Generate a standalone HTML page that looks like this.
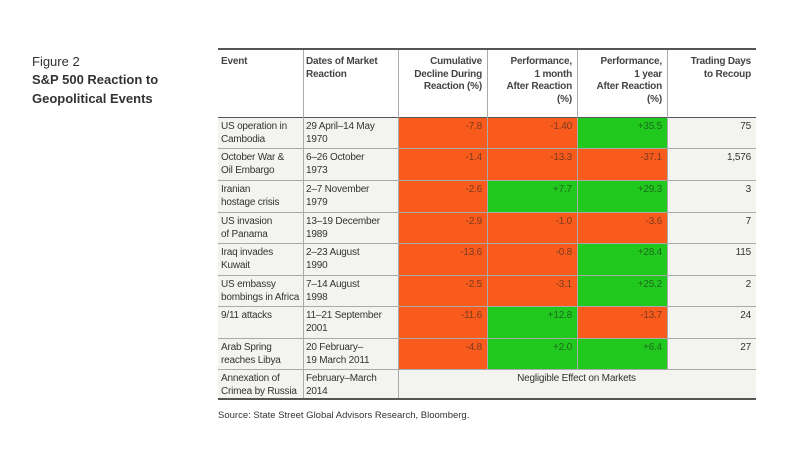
<!DOCTYPE html><html><head><style>
body{margin:0;width:792px;height:450px;background:#fff;font-family:"Liberation Sans",sans-serif;color:#333;position:relative;overflow:hidden}
.a{position:absolute}
.t{font-size:13px;line-height:19px;left:32px}
.c{position:absolute;box-sizing:border-box;font-size:10px;line-height:12.5px;padding:4px 4px 0 3px;white-space:nowrap;letter-spacing:-0.2px}
.r{text-align:right;padding-right:5px}
.h{font-weight:bold;color:#444;padding-top:6px}
.o{background:#f95b1c;color:#7a3a20}
.g{background:#21c91f;color:#1e6a1e}
.b{background:#f3f3f0}
</style></head><body>
<div class="a t" style="top:52px">Figure 2</div>
<div class="a t" style="top:70px;font-weight:bold">S&amp;P 500 Reaction to<br>Geopolitical Events</div>
<div class="a" style="left:218px;top:48px;width:538px;height:2px;background:#555"></div>
<div id="t"></div>
<div class="a" style="left:218px;top:398px;width:538px;height:2px;background:#555"></div>
<div class="a" style="left:218px;top:410px;font-size:9.5px">Source: State Street Global Advisors Research, Bloomberg.</div>
<script>
var X=[218,303,398,487,577,667,756];
var Y=[50,117,148,180,212,243,275,306,338,369,398];
var H=["Event","Dates of Market<br>Reaction","Cumulative<br>Decline During<br>Reaction (%)","Performance,<br>1 month<br>After Reaction<br>(%)","Performance,<br>1 year<br>After Reaction<br>(%)","Trading Days<br>to Recoup"];
var D=[["US operation in<br>Cambodia","29 April–14 May<br>1970","-7.8","-1.40","+35.5","75"],
["October War &amp;<br>Oil Embargo","6–26 October<br>1973","-1.4","-13.3","-37.1","1,576"],
["Iranian<br>hostage crisis","2–7 November<br>1979","-2.6","+7.7","+29.3","3"],
["US invasion<br>of Panama","13–19 December<br>1989","-2.9","-1.0","-3.6","7"],
["Iraq invades<br>Kuwait","2–23 August<br>1990","-13.6","-0.8","+28.4","115"],
["US embassy<br>bombings in Africa","7–14 August<br>1998","-2.5","-3.1","+25.2","2"],
["9/11 attacks","11–21 September<br>2001","-11.6","+12.8","-13.7","24"],
["Arab Spring<br>reaches Libya","20 February–<br>19 March 2011","-4.8","+2.0","+6.4","27"]];
var s="";
function cell(x0,x1,y0,y1,cls,txt){s+='<div class="c '+cls+'" style="left:'+x0+'px;top:'+y0+'px;width:'+(x1-x0)+'px;height:'+(y1-y0)+'px;'+'">'+txt+'</div>';}
for(var j=0;j<6;j++)cell(X[j],X[j+1],Y[0],Y[1],"h"+(j>1?" r":""),H[j]);
for(var i=0;i<8;i++)for(var j=0;j<6;j++){var v=D[i][j],cl="b";if(j>=2&&j<=4)cl=v[0]=="+"?"g":"o";if(j>=2)cl+=" r";cell(X[j],X[j+1],Y[i+1],Y[i+2],cl,v);}
cell(X[0],X[1],Y[9],Y[10],"b","Annexation of<br>Crimea by Russia");
cell(X[1],X[2],Y[9],Y[10],"b","February–March<br>2014");
cell(X[2],X[6],Y[9],Y[10],"b",'<div style="text-align:center">Negligible Effect on Markets</div>');
for(var i=1;i<10;i++)s+='<div class="a" style="left:218px;top:'+Y[i]+'px;width:538px;height:1px;background:'+(i==1?'#555':'#aaa')+'"></div>';
for(var j=1;j<6;j++)s+='<div class="a" style="left:'+X[j]+'px;top:50px;width:1px;height:'+(j>=3?319:348)+'px;background:#aaa"></div>';
document.getElementById("t").innerHTML=s;
</script>
</body></html>
